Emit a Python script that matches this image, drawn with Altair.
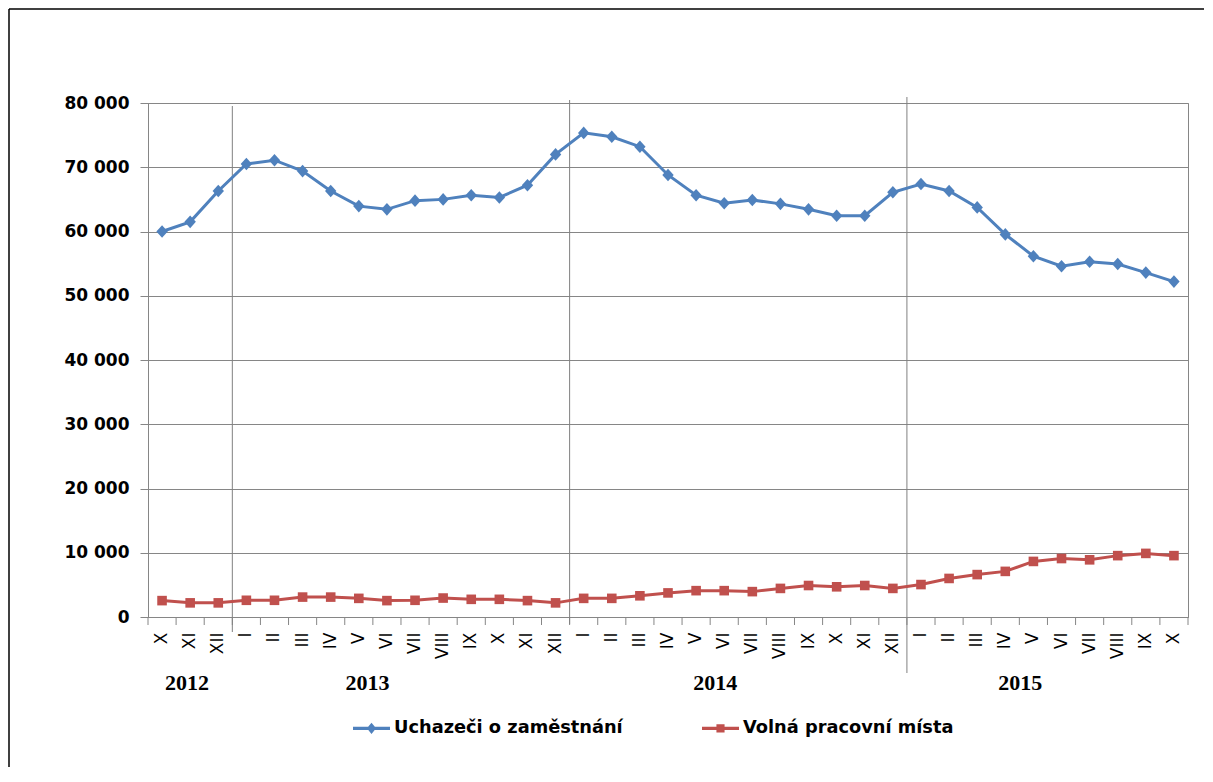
import altair as alt
import pandas as pd

# ---------------- data ----------------
months = ["X", "XI", "XII",
          "I", "II", "III", "IV", "V", "VI", "VII", "VIII", "IX", "X", "XI", "XII",
          "I", "II", "III", "IV", "V", "VI", "VII", "VIII", "IX", "X", "XI", "XII",
          "I", "II", "III", "IV", "V", "VI", "VII", "VIII", "IX", "X"]
years = ["2012"] * 3 + ["2013"] * 12 + ["2014"] * 12 + ["2015"] * 10

uchazeci = [60000, 61500, 66300,
            70500, 71100, 69400, 66300, 63950, 63450, 64800, 65000, 65650, 65300, 67200, 72000,
            75350, 74750, 73200, 68800, 65650, 64400, 64900, 64300, 63450, 62450, 62450, 66100,
            67400, 66300, 63750, 59550, 56150, 54600, 55300, 54950, 53600, 52200]
volna = [2550, 2200, 2200,
         2600, 2600, 3100, 3100, 2900, 2550, 2600, 2950, 2750, 2750, 2550, 2200,
         2900, 2900, 3300, 3750, 4100, 4100, 3950, 4450, 4900, 4700, 4900, 4450,
         5050, 6000, 6600, 7100, 8650, 9100, 8900, 9550, 9900, 9550]

series_names = ["Uchazeči o zaměstnání", "Volná pracovní místa"]
series_colors = ["#4F81BD", "#C0504D"]
year_labels = ["2012", "2013", "2014", "2015"]
year_starts = ["2013-I", "2014-I", "2015-I"]

keys = [f"{y}-{m}" for y, m in zip(years, months)]

rows = []
for i, k in enumerate(keys):
    rows.append({"key": k, "idx": i, "series": series_names[0], "value": uchazeci[i]})
    rows.append({"key": k, "idx": i, "series": series_names[1], "value": volna[i]})
df = pd.DataFrame(rows)
df_ticks = pd.DataFrame({"key": keys})

# ---------------- layout ----------------
W, H = 1040, 514
GRID = "#868686"

# year label anchors (category + fraction of band)
year_anchor = ["2012-XI", "2013-V", "2014-VI", "2015-V"]
year_band = [0.39, 0.81, 0.18, 0.03]
sep_extent = [(3, 529), (-3, 521), (-6, 570)]

x_scale = alt.Scale(domain=keys, paddingInner=0, paddingOuter=0)
x_axis = alt.Axis(title=None, labelAngle=270, labelExpr="split(datum.label, '-')[1]",
                  ticks=False, tickSize=0, labelPadding=15, labelFont="DejaVu Sans",
                  labelFontSize=17, labelColor="black", domainColor=GRID, grid=False)


def xenc(bp=None):
    if bp is None:
        return alt.X("key:N", scale=x_scale, sort=keys, axis=x_axis)
    return alt.X("key:N", scale=x_scale, sort=keys, axis=x_axis, bandPosition=bp)


y_enc = alt.Y("value:Q", scale=alt.Scale(domain=[0, 80000], nice=False),
              axis=alt.Axis(title=None, values=list(range(0, 80001, 10000)),
                            labelExpr="replace(format(datum.value, ','), ',', ' ')",
                            labelFont="DejaVu Sans", labelFontWeight="bold", labelFontSize=17,
                            labelColor="black", labelPadding=11, tickSize=8, tickColor=GRID,
                            gridColor=GRID, domainColor=GRID))

marker_paths = ["M0,-1.05L0.95,0L0,1.05L-0.95,0Z", "M-0.8,-0.8L0.8,-0.8L0.8,0.8L-0.8,0.8Z"]
legend_paths = ["M-1,-0.085L1,-0.085L1,0.085L-1,0.085Z M0,-0.3L0.25,0L0,0.3L-0.25,0Z",
                "M-1,-0.085L1,-0.085L1,0.085L-1,0.085Z M-0.22,-0.22L0.22,-0.22L0.22,0.22L-0.22,0.22Z"]

line = alt.Chart(df).mark_line(strokeWidth=3).encode(
    x=xenc(), y=y_enc,
    color=alt.Color("series:N", scale=alt.Scale(domain=series_names, range=series_colors), legend=None),
    order=alt.Order("idx:Q"))

pts = alt.Chart(df).mark_point(filled=True, opacity=1, size=144, strokeWidth=0).encode(
    x=xenc(), y=y_enc,
    color=alt.Color("series:N", scale=alt.Scale(domain=series_names, range=series_colors), legend=None),
    shape=alt.Shape("series:N", scale=alt.Scale(domain=series_names, range=marker_paths), legend=None))

leg = alt.Chart(df).transform_filter("false").mark_point(filled=True, opacity=1).encode(
    color=alt.Color("series:N", scale=alt.Scale(domain=series_names, range=series_colors),
                    legend=alt.Legend(title=None)),
    shape=alt.Shape("series:N", scale=alt.Scale(domain=series_names, range=legend_paths),
                    legend=alt.Legend(title=None)))

ticks = alt.Chart(df_ticks).mark_rule(color=GRID, strokeWidth=1).encode(
    x=xenc(0), y=alt.value(H), y2=alt.value(H + 8))
last_tick = alt.Chart(df_ticks.tail(1)).mark_rule(color=GRID, strokeWidth=1).encode(
    x=xenc(1), y=alt.value(H), y2=alt.value(H + 8))

layers = [ticks, last_tick]
for k, (t, b) in zip(year_starts, sep_extent):
    layers.append(alt.Chart(pd.DataFrame({"key": [k]})).mark_rule(color="#808080", strokeWidth=1).encode(
        x=xenc(0), y=alt.value(t), y2=alt.value(b)))

for lab, anc, bp in zip(year_labels, year_anchor, year_band):
    layers.append(alt.Chart(pd.DataFrame({"key": [anc], "label": [lab]})).mark_text(
        font="Liberation Serif", fontSize=22, fontWeight="bold", baseline="middle",
        align="center", color="black").encode(x=xenc(bp), y=alt.value(580), text="label:N"))

border_top = alt.Chart(df_ticks.head(1)).mark_rule(color="black", strokeWidth=1.5).encode(
    x=alt.value(-139), x2=alt.value(W + 16), y=alt.value(-94))
border_left = alt.Chart(df_ticks.head(1)).mark_rule(color="black", strokeWidth=1.5).encode(
    x=alt.value(-139), y=alt.value(-94), y2=alt.value(H + 150))

chart = alt.layer(*layers, line, pts, leg, border_top, border_left).resolve_scale(
    shape="independent", color="independent"
).properties(
    width=W, height=H,
    padding={"left": 140, "top": 95, "right": 17, "bottom": 150},
    autosize=alt.AutoSizeParams(type="none"),
    background="white",
).configure_view(
    stroke=GRID, strokeWidth=1
).configure_legend(
    orient="none", legendX=205, legendY=606.5, direction="horizontal",
    symbolSize=1369, symbolStrokeWidth=0, symbolOpacity=1,
    labelFont="DejaVu Sans", labelFontSize=17.8, labelFontWeight="bold", labelColor="black",
    labelOffset=4, columnPadding=79, padding=0, labelLimit=0
)

chart.save("out.html", embed_options={"renderer": "svg", "actions": False})
